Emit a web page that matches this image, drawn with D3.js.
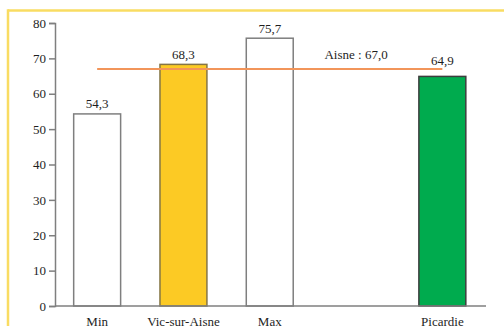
<!DOCTYPE html>
<html>
<head>
<meta charset="utf-8">
<script src="https://cdn.jsdelivr.net/npm/d3@7"></script>
<style>
  html, body { margin: 0; padding: 0; background: #fff; }
  svg { display: block; font-family: "Liberation Serif", "Times New Roman", Times, serif; }
  svg text { font-family: "Liberation Serif", "Times New Roman", Times, serif !important; fill: #1e1e1e; }
</style>
</head>
<body>
<svg id="chart" width="504" height="326"></svg>
<script>
// Categories (an empty slot sits between Max and Picardie)
const categories = ["Min", "Vic-sur-Aisne", "Max", "gap", "Picardie"];
const categoryLabels = ["Min", "Vic-sur-Aisne", "Max", "", "Picardie"];
const values = [54.3, 68.3, 75.7, null, 64.9];
const valueLabels = ["54,3", "68,3", "75,7", "", "64,9"];
const barFills = ["#ffffff", "#fcca24", "#ffffff", null, "#00ab4e"];
const barStrokes = ["#7f7f7f", "#857545", "#7f7f7f", null, "#3d3d3d"];
const referenceValue = 67.0;
const referenceLabel = "Aisne : 67,0";
const yTicks = [0, 10, 20, 30, 40, 50, 60, 70, 80];

const svg = d3.select("#chart");

// Yellow frame (top and left edges)
svg.append("line").attr("x1", 8).attr("x2", 504).attr("y1", 10.5).attr("y2", 10.5)
  .attr("stroke", "#f9dc62").attr("stroke-width", 2.5);
svg.append("line").attr("x1", 8).attr("x2", 8).attr("y1", 9.3).attr("y2", 326)
  .attr("stroke", "#f9dc62").attr("stroke-width", 2.5);

const x = d3.scaleBand().domain(categories).range([54, 485.5])
  .paddingInner(0.456).paddingOuter(0.228);
const y = d3.scaleLinear().domain([0, 80]).range([306, 23]);

const lbl = d => categoryLabels[categories.indexOf(d)];
const cx = c => x(c) + x.bandwidth() / 2;
const yRef = y(referenceValue);

// Bars
const data = categories.map((c, i) => ({ c, v: values[i], t: valueLabels[i], f: barFills[i], s: barStrokes[i] }))
  .filter(d => d.v !== null);

svg.append("g").selectAll("rect").data(data).join("rect")
  .attr("x", d => x(d.c))
  .attr("y", d => y(d.v))
  .attr("width", x.bandwidth())
  .attr("height", d => y(0) - y(d.v))
  .attr("fill", d => d.f)
  .attr("stroke", d => d.s)
  .attr("stroke-width", 1.5);

// Value labels; a label just under the reference line is lifted above it
const labelY = d => {
  const top = y(d.v);
  const gap = top - yRef;
  return (gap > 0 && gap < 15) ? yRef - 3.5 : top - 5.5;
};
svg.append("g").selectAll("text").data(data).join("text")
  .attr("x", d => cx(d.c))
  .attr("y", labelY)
  .attr("text-anchor", "middle")
  .attr("font-size", "13px")
  .text(d => d.t);

// Reference line (Aisne)
svg.append("line")
  .attr("x1", cx(categories[0])).attr("x2", cx(categories[categories.length - 1]))
  .attr("y1", yRef).attr("y2", yRef)
  .attr("stroke", "#f2955a").attr("stroke-width", 2);
svg.append("text")
  .attr("x", cx("gap"))
  .attr("y", yRef - 9.5)
  .attr("text-anchor", "middle")
  .attr("font-size", "13px")
  .text(referenceLabel);

// Y axis
const yAxis = svg.append("g").attr("transform", "translate(55,0)")
  .call(d3.axisLeft(y).tickValues(yTicks).tickSize(6).tickPadding(3));
yAxis.attr("font-family", null);
yAxis.select(".domain").attr("stroke", "#7f7f7f").attr("stroke-width", 1.5);
yAxis.selectAll(".tick line").attr("stroke", "#7f7f7f").attr("stroke-width", 1.5);
yAxis.selectAll(".tick text").attr("font-size", "13px");

// X axis
const xAxis = svg.append("g").attr("transform", "translate(0,306)")
  .call(d3.axisBottom(x).tickSize(0).tickPadding(11).tickFormat(lbl));
xAxis.attr("font-family", null);
xAxis.select(".domain").attr("d", "M55,0H486").attr("stroke", "#7f7f7f").attr("stroke-width", 1.5);
xAxis.selectAll(".tick text").attr("font-size", "13px");
</script>
</body>
</html>
